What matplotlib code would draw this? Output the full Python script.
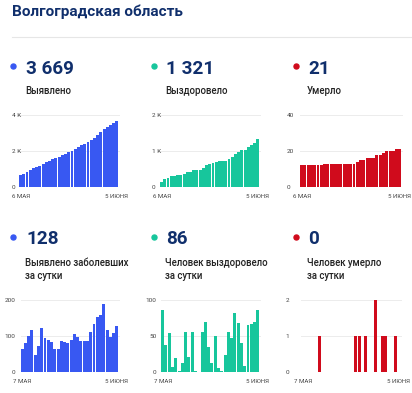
import matplotlib
matplotlib.use('Agg')
import matplotlib.pyplot as plt

plt.rcParams['font.family'] = ['Roboto', 'DejaVu Sans']

# ---------------- data ----------------
title = "Волгоградская область"
cum_date_labels = ["6 МАЯ", "5 ИЮНЯ"]
daily_date_labels = ["7 МАЯ", "5 ИЮНЯ"]

cases_total = [679, 744, 824, 924, 1042, 1090, 1162, 1285, 1380, 1468, 1552,
               1617, 1682, 1767, 1849, 1929, 2017, 2123, 2219, 2306, 2393,
               2478, 2588, 2720, 2873, 3030, 3218, 3336, 3433, 3541, 3669]
recovered_total = [131, 217, 255, 309, 316, 335, 336, 348, 403, 424, 479,
                   480, 480, 535, 605, 640, 653, 703, 709, 711, 734,
                   789, 836, 918, 986, 1026, 1034, 1099, 1166, 1235, 1321]
deaths_total = [12, 12, 12, 12, 12, 12, 12, 13, 13, 13, 13,
                13, 13, 13, 13, 13, 13, 14, 15, 15, 16,
                16, 16, 18, 18, 19, 20, 20, 20, 21, 21]

cases_daily = [65, 80, 100, 118, 48, 72, 123, 95, 88, 84, 65, 65, 85, 82, 80,
               88, 106, 96, 87, 87, 85, 110, 132, 153, 157, 188, 118, 97, 108, 128]
recovered_daily = [86, 38, 54, 7, 19, 1, 12, 55, 21, 55, 1, 0, 55, 70, 35,
                   13, 50, 6, 2, 23, 55, 47, 82, 68, 40, 8, 65, 67, 69, 86]
deaths_daily = [0, 0, 0, 0, 0, 1, 0, 0, 0, 0, 0, 0, 0, 0, 0,
                0, 1, 1, 0, 1, 0, 0, 2, 0, 1, 1, 0, 0, 1, 0]

headline_values = ["3 669", "1 321", "21", "128", "86", "0"]
headline_labels = [["Выявлено"], ["Выздоровело"], ["Умерло"],
                   ["Выявлено заболевших", "за сутки"],
                   ["Человек выздоровело", "за сутки"],
                   ["Человек умерло", "за сутки"]]

top_yticks = [[0, 2000, 4000], [0, 1000, 2000], [0, 20, 40]]
top_yticklabels = [["0", "2 K", "4 K"], ["0", "1 K", "2 K"], ["0", "20", "40"]]
bottom_yticks = [[0, 100, 200], [0, 50, 100], [0, 1, 2]]
bottom_yticklabels = [["0", "100", "200"], ["0", "50", "100"], ["0", "1", "2"]]

# ---------------- style ----------------
W, H = 412, 393
navy = "#102f6c"
colors = ["#3858f2", "#17c69c", "#d00b1c"]
text_dark = "#222222"
tick_col = "#444444"
grid_col = "#ececec"


def fx(x):
    return x / W


def fy(y):
    return 1 - y / H


fig = plt.figure(figsize=(W / 100, H / 100), dpi=100)
fig.patch.set_facecolor("white")

fig.text(fx(12), fy(15.7), title, fontsize=11, fontweight="bold",
         color=navy, ha="left", va="baseline")
fig.add_artist(plt.Line2D([fx(12), fx(412)], [fy(37), fy(37)],
                          color="#e6e6e6", lw=0.8))

col_dot_x = [13, 154, 296]
col_text_x = [26, 166, 308]


def headline(i, col, num_base, dot_y, label_base):
    fig.add_artist(plt.Line2D([fx(col_dot_x[col])], [fy(dot_y)], marker="o",
                              markersize=3.6, color=colors[col], lw=0))
    fig.text(fx(col_text_x[col]), fy(num_base), headline_values[i],
             fontsize=13.6, fontweight="bold", color=navy,
             ha="left", va="baseline")
    for k, line in enumerate(headline_labels[i]):
        fig.text(fx(col_text_x[col] - 1), fy(label_base + 13 * k), line,
                 fontsize=6.9, fontweight="medium", color=text_dark,
                 ha="left", va="baseline")


for c in range(3):
    headline(c, c, 74, 66, 93.5)
    headline(3 + c, c, 244, 236.5, 266)


def chart(left, right, top, bottom, values, color, yticks, ylabels,
          date_labels, ha, label_edge, xpad):
    ax = fig.add_axes([fx(left), fy(bottom), (right - left) / W,
                       (bottom - top) / H])
    n = len(values)
    ax.bar(range(n), values, width=0.9, color=color, zorder=2, linewidth=0)
    ax.set_xlim(-0.5, n - 0.5)
    ax.set_ylim(0, yticks[-1])
    for s in ax.spines.values():
        s.set_visible(False)
    ax.set_yticks(yticks)
    ax.set_yticklabels(ylabels)
    for t in yticks[1:]:
        ax.axhline(t, color=grid_col, lw=0.7, zorder=1, clip_on=False)
    pad_px = left - label_edge
    ax.tick_params(axis="y", length=0, pad=pad_px * 0.72, labelsize=4.6,
                   labelcolor=tick_col)
    for lab in ax.get_yticklabels():
        lab.set_horizontalalignment(ha)
    ax.set_xticks([0, n - 1])
    ax.set_xticklabels(date_labels)
    ax.tick_params(axis="x", length=0, pad=xpad, labelsize=4.4,
                   labelcolor=tick_col)
    ax.set_facecolor("none")
    return ax


# top row (cumulative)
chart(19, 118.5, 115, 187, cases_total, colors[0], top_yticks[0],
      top_yticklabels[0], cum_date_labels, "left", 12, 5.4)
chart(160, 259.5, 115, 187, recovered_total, colors[1], top_yticks[1],
      top_yticklabels[1], cum_date_labels, "left", 152, 5.4)
chart(300, 401.5, 115, 187, deaths_total, colors[2], top_yticks[2],
      top_yticklabels[2], cum_date_labels, "left", 287, 5.4)

# bottom row (daily)
chart(20.5, 118.5, 300, 372, cases_daily, colors[0], bottom_yticks[0],
      bottom_yticklabels[0], daily_date_labels, "right", 15.5, 4.8)
chart(161, 259.5, 300, 372, recovered_daily, colors[1], bottom_yticks[1],
      bottom_yticklabels[1], daily_date_labels, "right", 156.5, 4.8)
chart(301, 400.5, 300, 372, deaths_daily, colors[2], bottom_yticks[2],
      bottom_yticklabels[2], daily_date_labels, "right", 289, 4.8)

fig.savefig("out.png", dpi=100, facecolor="white")
